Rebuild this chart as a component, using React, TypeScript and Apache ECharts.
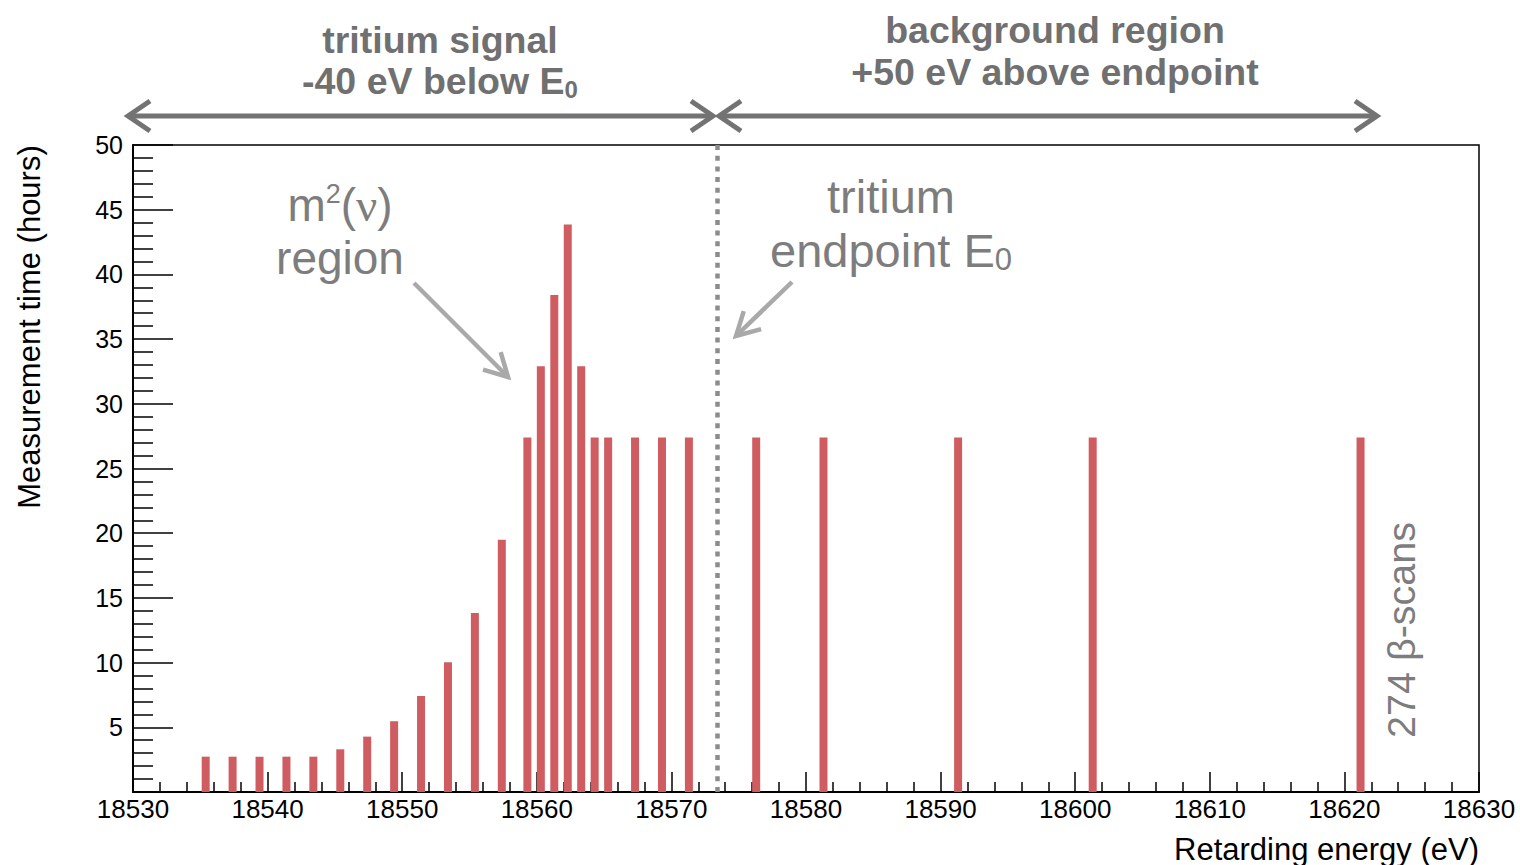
import React, { useEffect, useRef } from "react";
import * as echarts from "echarts";

// Retarding energies (eV) of the scan steps
const energies: number[] = [
  18535.4, 18537.4, 18539.4, 18541.4, 18543.4, 18545.4, 18547.4, 18549.4,
  18551.4, 18553.4, 18555.4, 18557.4, 18559.3, 18560.3, 18561.3, 18562.3,
  18563.3, 18564.3, 18565.3, 18567.3, 18569.3, 18571.3, 18576.3, 18581.3,
  18591.3, 18601.3, 18621.2,
];
// Measurement time per step (hours)
const hours: number[] = [
  2.73, 2.73, 2.73, 2.73, 2.73, 3.3, 4.28, 5.47, 7.42, 10.03, 13.84, 19.49,
  27.4, 32.9, 38.4, 43.85, 32.9, 27.4, 27.4, 27.4, 27.4, 27.4, 27.4, 27.4,
  27.4, 27.4, 27.4,
];
const endpointE0 = 18573.4;
const xRange = [18530, 18630];
const yRange = [0, 50];

const FONT = '"Liberation Sans", Arial, Helvetica, sans-serif';
const BAR = "#cf5c60";
const HEAD = "#707070";
const NOTE = "#7d7d7d";
const ARROW2 = "#a9a9a9";

function arrowHead(x1: number, y1: number, x2: number, y2: number, len: number, ang: number) {
  const a = Math.atan2(y1 - y2, x1 - x2);
  return [
    [x2 + len * Math.cos(a + ang), y2 + len * Math.sin(a + ang)],
    [x2, y2],
    [x2 + len * Math.cos(a - ang), y2 + len * Math.sin(a - ang)],
  ];
}

function diagArrow(x1: number, y1: number, x2: number, y2: number, color: string) {
  return [
    { type: "line", silent: true, shape: { x1, y1, x2, y2 }, style: { stroke: color, lineWidth: 4.5 } },
    {
      type: "polyline",
      silent: true,
      shape: { points: arrowHead(x1, y1, x2, y2, 26, 0.5) },
      style: { stroke: color, lineWidth: 4.5, fill: "none" },
    },
  ];
}

function hArrow(x1: number, x2: number, y: number, color: string) {
  return [
    { type: "line", silent: true, shape: { x1, y1: y, x2, y2: y }, style: { stroke: color, lineWidth: 5 } },
    {
      type: "polyline",
      silent: true,
      shape: { points: [[x1 + 22, y - 15], [x1, y], [x1 + 22, y + 15]] },
      style: { stroke: color, lineWidth: 5, fill: "none" },
    },
    {
      type: "polyline",
      silent: true,
      shape: { points: [[x2 - 22, y - 15], [x2, y], [x2 - 22, y + 15]] },
      style: { stroke: color, lineWidth: 5, fill: "none" },
    },
  ];
}

function txt(x: number, y: number, style: any, rotation = 0) {
  return {
    type: "text",
    silent: true,
    x,
    y,
    rotation,
    style: {
      align: "center",
      verticalAlign: "middle",
      textAlign: "center",
      textVerticalAlign: "middle",
      fontFamily: FONT,
      ...style,
    },
  };
}

export default function App() {
  const ref = useRef<HTMLDivElement>(null);

  useEffect(() => {
    if (!ref.current) return;
    const chart = echarts.init(ref.current, null, { renderer: "svg" });
    const option: any = {
      animation: false,
      backgroundColor: "#ffffff",
      grid: {
        left: 133,
        right: 41,
        top: 145,
        bottom: 73,
        show: true,
        borderColor: "#000",
        borderWidth: 1.5,
        backgroundColor: "transparent",
      },
      xAxis: {
        type: "value",
        min: xRange[0],
        max: xRange[1],
        interval: 10,
        axisLine: { show: true, onZero: false, lineStyle: { color: "#000", width: 2 } },
        axisTick: { show: true, inside: true, length: 20, lineStyle: { color: "#000", width: 1.5 } },
        minorTick: { show: true, splitNumber: 5, length: 10, lineStyle: { color: "#000", width: 1.5 } },
        splitLine: { show: false },
        minorSplitLine: { show: false },
        axisLabel: {
          color: "#000",
          fontSize: 26,
          fontFamily: FONT,
          margin: 4,
          showMinLabel: true,
          showMaxLabel: true,
          formatter: (v: number) => String(v),
        },
      },
      yAxis: {
        type: "value",
        min: yRange[0],
        max: yRange[1],
        interval: 5,
        axisLine: { show: true, onZero: false, lineStyle: { color: "#000", width: 2 } },
        axisTick: { show: true, inside: true, length: 40, lineStyle: { color: "#000", width: 1.5 } },
        minorTick: { show: true, splitNumber: 5, length: 20, lineStyle: { color: "#000", width: 1.5 } },
        splitLine: { show: false },
        minorSplitLine: { show: false },
        axisLabel: {
          color: "#000",
          fontSize: 25,
          fontFamily: FONT,
          margin: 10,
          showMinLabel: true,
          showMaxLabel: true,
          formatter: (v: number) => (v === 0 ? "" : String(v)),
        },
      },
      series: [
        {
          type: "bar",
          data: energies.map((e, i) => [e, hours[i]]),
          barWidth: 8,
          itemStyle: { color: BAR },
          silent: true,
          markLine: {
            silent: true,
            symbol: ["none", "none"],
            label: { show: false },
            lineStyle: { color: "#8c8c8c", width: 4.5, type: [5, 5.7] },
            data: [{ xAxis: endpointE0 }],
          },
        },
      ],
      graphic: [
        ...hArrow(128, 713, 116, "#737373"),
        ...hArrow(719, 1377, 116, "#737373"),
        txt(440, 40, { text: "tritium signal", fontSize: 37.5, fontWeight: "bold", fill: HEAD }),
        txt(440, 81, {
          text: "{a|-40 eV below E}{s|0}",
          rich: {
            a: { fontSize: 37.5, fontWeight: "bold", fill: HEAD, fontFamily: FONT, lineHeight: 40 },
            s: { fontSize: 24, fontWeight: "bold", fill: HEAD, fontFamily: FONT, lineHeight: 20, verticalAlign: "bottom" },
          },
        }),
        txt(1055, 30, { text: "background region", fontSize: 37.5, fontWeight: "bold", fill: HEAD }),
        txt(1055, 72, { text: "+50 eV above endpoint", fontSize: 37.5, fontWeight: "bold", fill: HEAD }),
        txt(340, 205, {
          text: "{a|m}{p|2}{a|(}{n|ν}{a|)}",
          rich: {
            a: { fontSize: 46, fill: NOTE, fontFamily: FONT, lineHeight: 50 },
            p: { fontSize: 27, fill: NOTE, fontFamily: FONT, lineHeight: 30, verticalAlign: "top" },
            n: { fontSize: 47, fill: NOTE, fontFamily: '"Liberation Serif", "Times New Roman", serif', lineHeight: 50 },
          },
        }),
        txt(340, 258, { text: "region", fontSize: 46, fill: NOTE }),
        txt(891, 196, { text: "tritium", fontSize: 47, fill: NOTE }),
        txt(891, 250, {
          text: "{a|endpoint E}{s|0}",
          rich: {
            a: { fontSize: 47, fill: NOTE, fontFamily: FONT, lineHeight: 50 },
            s: { fontSize: 31, fill: NOTE, fontFamily: FONT, lineHeight: 22, verticalAlign: "bottom" },
          },
        }),
        ...diagArrow(414, 283, 508, 377, ARROW2),
        ...diagArrow(792, 282, 736, 336, ARROW2),
        txt(1401, 630, { text: "274 β-scans", fontSize: 39.5, fill: NOTE }, Math.PI / 2),
        txt(29, 327, { text: "Measurement time (hours)", fontSize: 31, fill: "#000" }, Math.PI / 2),
        {
          type: "text",
          silent: true,
          x: 1479,
          y: 849,
          style: {
            text: "Retarding energy (eV)",
            fontSize: 31,
            fontFamily: FONT,
            fill: "#000",
            align: "right",
            verticalAlign: "middle",
            textAlign: "right",
            textVerticalAlign: "middle",
          },
        },
      ],
    };
    chart.setOption(option);
    return () => chart.dispose();
  }, []);

  return (
    <div
      ref={ref}
      style={{ position: "fixed", left: 0, top: 0, width: 1520, height: 865, background: "#fff" }}
    />
  );
}
